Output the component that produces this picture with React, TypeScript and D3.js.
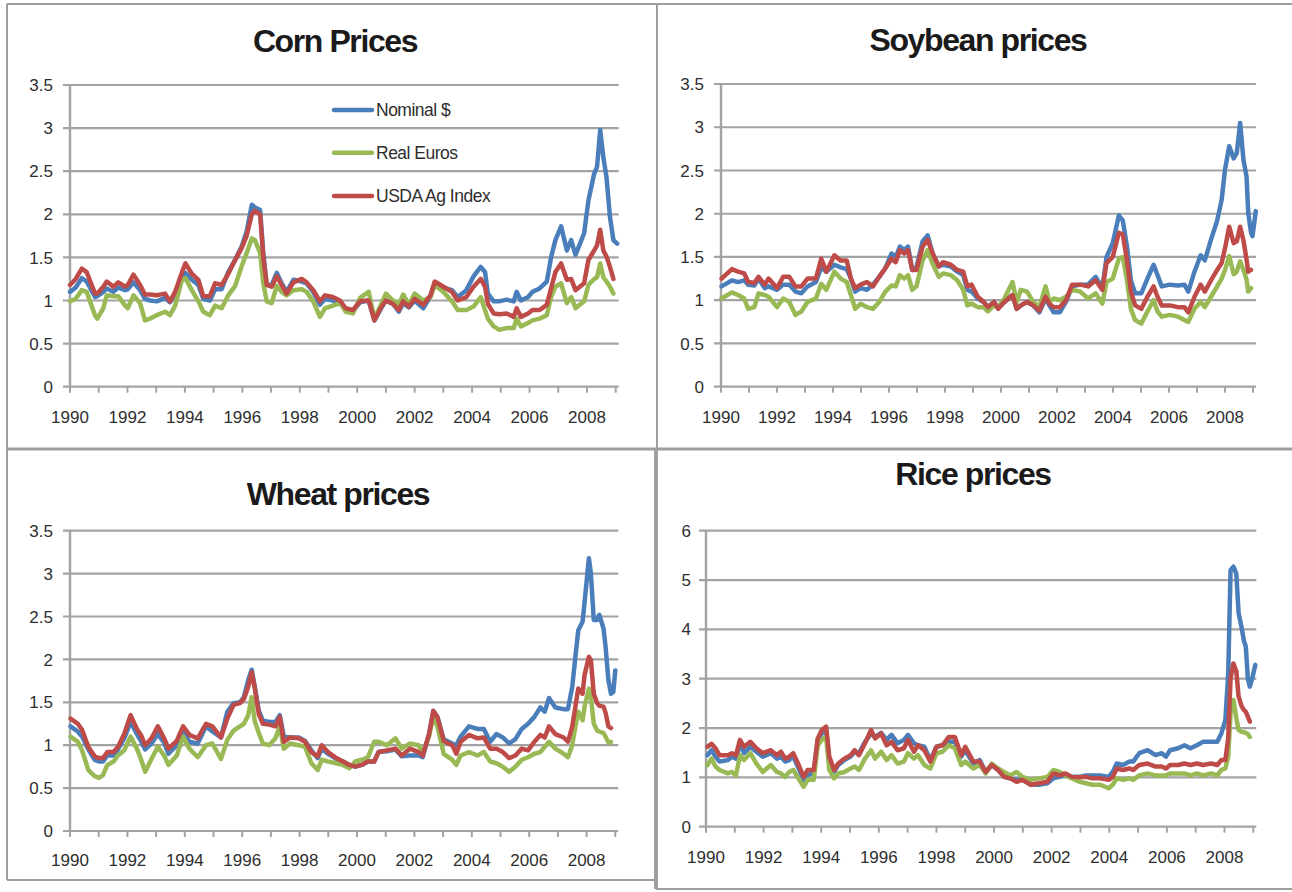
import React from "react";
import * as d3 from "d3";

// ---------------- DATA ----------------
const seriesNames = ["Nominal $", "Real Euros", "USDA Ag Index"];
const seriesColors = ["#4A7EBB", "#98B954", "#BE4B48"];
const xTickYears = d3.range(1990, 2010);
const xLabelYears = d3.range(1990, 2009, 2);

const cornYears = [1990.00,1990.20,1990.41,1990.58,1990.87,1990.95,1991.16,1991.28,1991.51,1991.68,1991.92,1992.01,1992.21,1992.44,1992.61,1992.79,1993.02,1993.31,1993.48,1993.66,1993.89,1994.02,1994.24,1994.47,1994.64,1994.87,1995.05,1995.28,1995.51,1995.75,1995.98,1996.15,1996.33,1996.44,1996.62,1996.73,1996.85,1997.02,1997.20,1997.37,1997.54,1997.78,1998.07,1998.24,1998.47,1998.70,1998.88,1999.15,1999.40,1999.60,1999.85,2000.10,2000.40,2000.60,2000.85,2001.00,2001.25,2001.45,2001.60,2001.80,2002.00,2002.30,2002.55,2002.70,2003.00,2003.30,2003.50,2003.80,2004.05,2004.30,2004.45,2004.55,2004.75,2004.95,2005.20,2005.45,2005.55,2005.70,2005.95,2006.10,2006.35,2006.60,2006.75,2006.90,2007.10,2007.30,2007.45,2007.60,2007.90,2008.05,2008.25,2008.35,2008.46,2008.57,2008.68,2008.80,2008.92,2009.05];
const cornNominal = [1.10,1.15,1.26,1.22,1.04,1.05,1.10,1.14,1.10,1.15,1.12,1.13,1.21,1.12,1.02,1.00,0.99,1.03,0.98,1.06,1.27,1.32,1.24,1.18,1.02,1.00,1.13,1.13,1.33,1.47,1.63,1.80,2.11,2.08,2.05,1.55,1.18,1.18,1.32,1.20,1.10,1.24,1.22,1.20,1.10,0.95,1.02,1.00,0.98,0.89,0.88,0.98,1.00,0.77,0.92,1.00,0.96,0.87,0.97,0.92,1.00,0.91,1.05,1.20,1.15,1.12,1.04,1.12,1.28,1.39,1.33,1.08,0.99,0.99,1.01,0.99,1.10,1.00,1.04,1.10,1.14,1.22,1.50,1.70,1.86,1.58,1.70,1.53,1.78,2.16,2.47,2.55,2.98,2.66,2.43,1.97,1.70,1.66];
const cornEuro = [0.99,1.02,1.12,1.10,0.83,0.79,0.91,1.06,1.05,1.05,0.94,0.91,1.06,0.97,0.77,0.79,0.83,0.87,0.83,0.94,1.23,1.26,1.12,0.99,0.87,0.83,0.94,0.91,1.06,1.17,1.40,1.55,1.72,1.70,1.55,1.20,0.99,0.97,1.17,1.10,1.06,1.12,1.13,1.10,0.99,0.81,0.91,0.94,0.97,0.87,0.85,1.03,1.10,0.79,0.97,1.08,1.00,0.95,1.07,0.95,1.08,1.00,1.04,1.18,1.10,0.99,0.89,0.89,0.93,1.04,0.89,0.79,0.70,0.66,0.68,0.68,0.79,0.70,0.74,0.77,0.79,0.83,1.04,1.16,1.20,0.97,1.04,0.91,0.99,1.18,1.25,1.27,1.43,1.27,1.22,1.16,1.08,null];
const cornUsda = [1.18,1.25,1.37,1.33,1.08,1.08,1.16,1.22,1.16,1.21,1.16,1.18,1.30,1.18,1.07,1.07,1.06,1.08,0.99,1.10,1.32,1.43,1.31,1.24,1.05,1.05,1.20,1.18,1.31,1.47,1.61,1.75,2.00,2.04,2.00,1.50,1.18,1.16,1.28,1.18,1.08,1.21,1.25,1.21,1.12,0.99,1.06,1.04,1.00,0.91,0.89,0.99,1.00,0.77,0.93,1.00,0.96,0.89,0.99,0.93,1.02,0.95,1.06,1.22,1.16,1.10,1.00,1.04,1.16,1.25,1.16,0.96,0.85,0.84,0.85,0.81,0.91,0.81,0.85,0.89,0.89,0.95,1.14,1.33,1.43,1.24,1.25,1.12,1.20,1.47,1.58,1.64,1.82,1.58,1.51,1.39,1.25,null];

const soyYears = [1990.02,1990.39,1990.61,1990.83,1990.97,1991.19,1991.34,1991.56,1991.70,1992.00,1992.22,1992.44,1992.66,1992.87,1993.09,1993.39,1993.58,1993.76,1994.05,1994.27,1994.49,1994.64,1994.79,1994.99,1995.21,1995.43,1995.65,1995.87,1996.09,1996.24,1996.39,1996.54,1996.68,1996.83,1996.98,1997.20,1997.38,1997.56,1997.78,1997.93,1998.21,1998.44,1998.65,1998.80,1998.95,1999.17,1999.38,1999.53,1999.75,1999.90,2000.12,2000.41,2000.56,2000.71,2000.93,2001.15,2001.37,2001.59,2001.73,2001.88,2002.10,2002.32,2002.54,2002.83,2003.11,2003.38,2003.62,2003.77,2003.99,2004.21,2004.35,2004.50,2004.64,2004.79,2005.01,2005.23,2005.45,2005.59,2005.74,2006.03,2006.32,2006.55,2006.69,2006.91,2007.13,2007.28,2007.50,2007.72,2007.88,2008.00,2008.15,2008.31,2008.42,2008.54,2008.66,2008.77,2008.83,2008.93,2008.98,2009.10];
const soyNominal = [1.16,1.23,1.21,1.23,1.18,1.17,1.25,1.14,1.16,1.12,1.18,1.18,1.10,1.08,1.16,1.21,1.38,1.33,1.41,1.38,1.36,1.25,1.10,1.14,1.12,1.18,1.27,1.37,1.54,1.50,1.62,1.58,1.62,1.35,1.38,1.68,1.75,1.54,1.39,1.41,1.39,1.33,1.29,1.12,1.10,1.02,0.98,0.92,0.98,0.91,0.98,1.06,0.90,0.94,0.98,0.94,0.86,1.02,0.94,0.86,0.86,0.98,1.16,1.18,1.18,1.27,1.14,1.50,1.66,1.98,1.92,1.62,1.23,1.08,1.08,1.25,1.41,1.29,1.16,1.18,1.17,1.18,1.10,1.33,1.52,1.46,1.70,1.92,2.16,2.51,2.78,2.64,2.70,3.05,2.62,2.43,2.01,1.78,1.74,2.03];
const soyEuro = [1.02,1.09,1.06,1.02,0.90,0.92,1.08,1.06,1.04,0.92,1.02,0.98,0.83,0.87,0.98,1.02,1.19,1.12,1.33,1.25,1.21,1.06,0.90,0.96,0.92,0.90,0.98,1.10,1.17,1.16,1.29,1.25,1.29,1.12,1.16,1.46,1.58,1.42,1.27,1.31,1.29,1.23,1.12,0.94,0.96,0.92,0.92,0.87,0.94,0.92,1.02,1.21,0.98,1.12,1.10,0.98,0.92,1.16,0.98,1.02,1.00,1.04,1.12,1.10,1.02,1.08,0.96,1.21,1.25,1.48,1.50,1.23,0.90,0.77,0.73,0.87,1.00,0.87,0.81,0.83,0.81,0.77,0.75,0.90,0.98,0.92,1.04,1.16,1.25,1.35,1.51,1.30,1.33,1.45,1.35,1.24,1.10,1.14,null,null];
const soyUsda = [1.25,1.36,1.33,1.31,1.21,1.20,1.27,1.18,1.25,1.14,1.27,1.27,1.16,1.16,1.25,1.25,1.48,1.33,1.52,1.46,1.46,1.25,1.14,1.18,1.21,1.16,1.27,1.37,1.48,1.44,1.58,1.54,1.58,1.35,1.35,1.62,1.70,1.54,1.39,1.44,1.41,1.35,1.33,1.16,1.18,1.04,0.98,0.92,0.98,0.90,0.98,1.06,0.90,0.94,0.98,0.94,0.88,1.04,0.96,0.92,0.92,1.00,1.18,1.18,1.16,1.23,1.12,1.43,1.50,1.78,1.76,1.46,1.10,0.94,0.90,1.04,1.16,1.04,0.94,0.94,0.92,0.92,0.86,1.04,1.18,1.10,1.23,1.35,1.43,1.60,1.85,1.66,1.68,1.85,1.69,1.47,1.33,1.35,null,null];

const wheatYears = [1990.02,1990.27,1990.42,1990.64,1990.86,1991.01,1991.15,1991.30,1991.52,1991.67,1991.89,1992.11,1992.33,1992.47,1992.62,1992.84,1993.06,1993.28,1993.43,1993.72,1993.94,1994.16,1994.45,1994.74,1994.96,1995.26,1995.48,1995.70,1995.92,1996.06,1996.21,1996.33,1996.43,1996.58,1996.72,1996.94,1997.16,1997.31,1997.45,1997.67,1997.97,1998.19,1998.41,1998.63,1998.77,1998.99,1999.28,1999.51,1999.73,1999.94,2000.16,2000.38,2000.60,2000.75,2001.04,2001.34,2001.56,2001.85,2002.14,2002.29,2002.51,2002.66,2002.80,2003.02,2003.32,2003.46,2003.61,2003.90,2004.20,2004.42,2004.64,2004.86,2005.08,2005.30,2005.52,2005.74,2005.96,2006.18,2006.39,2006.54,2006.69,2006.91,2007.20,2007.35,2007.50,2007.61,2007.71,2007.86,2007.93,2008.08,2008.15,2008.25,2008.37,2008.44,2008.59,2008.66,2008.76,2008.85,2008.93,2009.00];
const wheatNominal = [1.22,1.16,1.10,0.95,0.83,0.81,0.81,0.88,0.88,0.95,1.08,1.27,1.13,1.05,0.95,1.02,1.13,1.03,0.90,1.00,1.17,1.04,1.02,1.22,1.16,1.09,1.39,1.49,1.50,1.56,1.76,1.88,1.70,1.40,1.29,1.27,1.27,1.35,1.10,1.09,1.09,1.05,0.94,0.85,0.96,0.90,0.84,0.81,0.77,0.75,0.77,0.81,0.81,0.92,0.93,0.95,0.87,0.88,0.88,0.86,1.13,1.40,1.33,1.07,1.02,1.00,1.10,1.22,1.19,1.19,1.04,1.13,1.09,1.02,1.07,1.19,1.25,1.33,1.44,1.39,1.55,1.44,1.42,1.42,1.68,2.03,2.34,2.44,2.67,3.18,3.00,2.46,2.46,2.52,2.36,2.15,1.76,1.60,1.62,1.87];
const wheatEuro = [1.10,1.04,0.94,0.71,0.64,0.62,0.65,0.77,0.81,0.88,0.94,1.10,0.96,0.84,0.69,0.84,0.98,0.88,0.77,0.88,1.10,0.96,0.86,1.00,1.02,0.84,1.06,1.17,1.22,1.25,1.35,1.56,1.29,1.14,1.02,1.00,1.08,1.22,0.96,1.02,1.00,0.98,0.79,0.71,0.83,0.81,0.79,0.77,0.73,0.81,0.83,0.86,1.04,1.04,1.00,1.08,0.96,1.02,1.00,0.92,1.10,1.33,1.22,0.90,0.83,0.77,0.88,0.92,0.88,0.92,0.81,0.79,0.75,0.69,0.75,0.83,0.86,0.90,0.92,0.98,1.04,0.96,0.90,0.86,1.00,1.22,1.39,1.29,1.45,1.66,1.56,1.25,1.17,1.16,1.14,1.10,1.03,1.04,null,null];
const wheatUsda = [1.31,1.25,1.18,0.98,0.87,0.85,0.85,0.92,0.92,0.98,1.13,1.35,1.19,1.12,1.00,1.08,1.22,1.08,0.96,1.05,1.22,1.12,1.08,1.25,1.22,1.09,1.31,1.47,1.49,1.54,1.68,1.85,1.68,1.36,1.25,1.24,1.22,1.33,1.04,1.09,1.08,1.04,0.92,0.87,1.00,0.92,0.85,0.81,0.77,0.75,0.77,0.81,0.81,0.92,0.94,0.96,0.88,0.96,0.92,0.88,1.13,1.40,1.33,1.05,1.00,0.90,1.04,1.12,1.08,1.09,0.96,0.96,0.92,0.85,0.88,0.96,0.94,1.04,1.12,1.09,1.22,1.13,1.09,1.04,1.22,1.45,1.66,1.60,1.82,2.03,1.99,1.60,1.49,1.46,1.45,1.38,1.22,1.20,null,null];

const riceYears = [1990.05,1990.19,1990.33,1990.47,1990.76,1990.90,1991.04,1991.18,1991.32,1991.54,1991.75,1991.97,1992.25,1992.46,1992.60,1992.75,1992.89,1993.03,1993.24,1993.39,1993.53,1993.74,1993.88,1994.02,1994.17,1994.28,1994.45,1994.59,1994.80,1995.02,1995.16,1995.31,1995.52,1995.73,1995.87,1996.08,1996.27,1996.44,1996.65,1996.87,1997.01,1997.22,1997.36,1997.58,1997.79,1998.00,1998.21,1998.43,1998.64,1998.86,1999.00,1999.28,1999.50,1999.71,1999.92,2000.14,2000.35,2000.56,2000.78,2000.99,2001.28,2001.56,2001.85,2002.06,2002.27,2002.48,2002.70,2002.98,2003.19,2003.41,2003.69,2003.98,2004.12,2004.26,2004.48,2004.69,2004.83,2005.04,2005.33,2005.61,2005.82,2005.97,2006.11,2006.39,2006.61,2006.82,2007.04,2007.25,2007.54,2007.75,2007.89,2008.03,2008.13,2008.21,2008.31,2008.41,2008.49,2008.59,2008.67,2008.74,2008.81,2008.88,2008.96,2009.07];
const riceNominal = [1.45,1.55,1.42,1.32,1.35,1.42,1.38,1.69,1.49,1.62,1.52,1.42,1.49,1.38,1.42,1.32,1.35,1.42,1.15,0.95,1.05,1.08,1.76,1.89,1.96,1.32,1.12,1.25,1.35,1.42,1.52,1.49,1.72,1.89,1.82,1.90,1.76,1.86,1.69,1.76,1.86,1.69,1.65,1.62,1.35,1.62,1.65,1.72,1.72,1.42,1.55,1.28,1.35,1.11,1.25,1.15,1.01,0.98,0.95,0.95,0.85,0.85,0.88,0.98,1.01,1.05,1.01,1.01,1.04,1.04,1.04,1.01,1.11,1.28,1.25,1.32,1.32,1.49,1.55,1.45,1.49,1.42,1.55,1.59,1.65,1.59,1.65,1.72,1.72,1.72,1.89,2.16,3.11,5.20,5.27,5.13,4.33,4.05,3.78,3.65,3.00,2.84,3.00,3.28];
const riceEuro = [1.25,1.38,1.22,1.15,1.08,1.11,1.04,1.45,1.35,1.49,1.28,1.11,1.25,1.11,1.08,1.01,1.11,1.15,0.95,0.81,0.95,0.95,1.65,1.76,1.82,1.15,0.98,1.08,1.11,1.18,1.22,1.15,1.38,1.55,1.38,1.52,1.35,1.45,1.28,1.32,1.49,1.38,1.45,1.25,1.18,1.49,1.52,1.65,1.59,1.25,1.32,1.18,1.25,1.08,1.28,1.18,1.11,1.04,1.11,1.01,0.95,0.98,1.01,1.15,1.11,1.04,0.98,0.91,0.88,0.85,0.85,0.78,0.85,0.98,0.95,0.98,0.95,1.04,1.08,1.04,1.04,1.04,1.08,1.08,1.08,1.04,1.08,1.04,1.08,1.04,1.15,1.18,1.42,2.30,2.57,2.20,1.96,1.92,1.92,1.90,1.88,1.82,null,null];
const riceUsda = [1.62,1.68,1.59,1.45,1.45,1.49,1.45,1.76,1.62,1.72,1.59,1.49,1.55,1.45,1.52,1.38,1.42,1.49,1.22,1.01,1.15,1.15,1.79,1.96,2.03,1.42,1.15,1.28,1.38,1.45,1.55,1.45,1.69,1.96,1.79,1.89,1.65,1.72,1.55,1.59,1.76,1.52,1.65,1.55,1.32,1.62,1.65,1.82,1.82,1.45,1.62,1.32,1.32,1.11,1.25,1.15,1.01,0.98,0.91,0.95,0.85,0.88,0.91,1.08,1.04,1.08,1.01,1.00,1.01,0.98,0.98,0.95,1.01,1.18,1.15,1.18,1.15,1.25,1.28,1.22,1.22,1.18,1.25,1.25,1.28,1.25,1.28,1.25,1.28,1.25,1.35,1.35,1.80,3.00,3.31,3.15,2.64,2.45,2.37,2.33,2.23,2.13,null,null];

// ---------------- LAYOUT ----------------
type PanelCfg = {
  title: string;
  years: number[];
  series: (number | null)[][];
  x0: number; x1: number; yBase: number; yTopPx: number;
  yMax: number; yStep: number;
  labelGap: number; xLabelDy: number;
  titleX: number; titleY: number;
  legend?: boolean;
};

const panels: PanelCfg[] = [
  { title: "Corn Prices", years: cornYears, series: [cornNominal, cornEuro, cornUsda],
    x0: 70, x1: 615.7, yBase: 386.7, yTopPx: 85, yMax: 3.5, yStep: 0.5,
    labelGap: 17, xLabelDy: 30, titleX: 335, titleY: 51.7, legend: true },
  { title: "Soybean prices", years: soyYears, series: [soyNominal, soyEuro, soyUsda],
    x0: 721, x1: 1253, yBase: 386.7, yTopPx: 84, yMax: 3.5, yStep: 0.5,
    labelGap: 17, xLabelDy: 30, titleX: 978, titleY: 50.7 },
  { title: "Wheat prices", years: wheatYears, series: [wheatNominal, wheatEuro, wheatUsda],
    x0: 70, x1: 615.3, yBase: 831, yTopPx: 530.7, yMax: 3.5, yStep: 0.5,
    labelGap: 17, xLabelDy: 29, titleX: 338, titleY: 505 },
  { title: "Rice prices", years: riceYears, series: [riceNominal, riceEuro, riceUsda],
    x0: 706, x1: 1253.3, yBase: 826.7, yTopPx: 530.7, yMax: 6, yStep: 1,
    labelGap: 15, xLabelDy: 30, titleX: 973, titleY: 485 },
];

const GRID = "#A3A3A3";
const TEXT = "#2e2e2e";
const FONT = "'Liberation Sans', Arial, sans-serif";

function Panel({ cfg }: { cfg: PanelCfg }) {
  const x = d3.scaleLinear().domain([1990, 2009]).range([cfg.x0, cfg.x1]);
  const y = d3.scaleLinear().domain([0, cfg.yMax]).range([cfg.yBase, cfg.yTopPx]);
  const yTicks = d3.range(0, cfg.yMax + cfg.yStep / 2, cfg.yStep);
  const gridEnd = cfg.x1 + 3;
  const order = [0, 1, 2];
  return (
    <g>
      <text x={cfg.titleX} y={cfg.titleY} textAnchor="middle" fontFamily={FONT}
        fontWeight="bold" fontSize={32} letterSpacing={-1.4} fill="#1a1a1a">{cfg.title}</text>
      {yTicks.map((t) => (
        <g key={t}>
          <line x1={cfg.x0 - 7} x2={gridEnd} y1={y(t)} y2={y(t)} stroke={GRID} strokeWidth={2.2} />
          <text x={cfg.x0 - cfg.labelGap} y={y(t)} dy="0.36em" textAnchor="end"
            fontFamily={FONT} fontSize={17} fill={TEXT}>{String(Math.round(t * 10) / 10)}</text>
        </g>
      ))}
      <line x1={cfg.x0} x2={cfg.x0} y1={y(cfg.yMax)} y2={cfg.yBase} stroke={GRID} strokeWidth={2.4} />
      {xTickYears.map((yr) => (
        <line key={yr} x1={x(yr)} x2={x(yr)} y1={cfg.yBase} y2={cfg.yBase + 6} stroke={GRID} strokeWidth={2} />
      ))}
      {xLabelYears.map((yr) => (
        <text key={yr} x={x(yr)} y={cfg.yBase + cfg.xLabelDy} dy="0.36em" textAnchor="middle"
          fontFamily={FONT} fontSize={17} fill={TEXT}>{yr}</text>
      ))}
      {order.map((si) => {
        const vals = cfg.series[si];
        const line = d3.line<number | null>()
          .defined((v) => v != null)
          .x((_, i) => x(cfg.years[i]))
          .y((v) => y(v as number));
        return (
          <path key={si} d={line(vals) || ""} fill="none" stroke={seriesColors[si]}
            strokeWidth={4.5} strokeLinejoin="round" strokeLinecap="round" />
        );
      })}
      {cfg.legend && seriesNames.map((name, i) => {
        const ly = [110, 152.7, 196][i];
        return (
          <g key={name}>
            <line x1={334} x2={372} y1={ly} y2={ly} stroke={seriesColors[i]} strokeWidth={4.5} strokeLinecap="round" />
            <text x={376} y={ly} dy="0.36em" fontFamily={FONT} fontSize={17.5} letterSpacing={-0.5} fill={TEXT}>{name}</text>
          </g>
        );
      })}
    </g>
  );
}

export default function App() {
  const B = "#9E9E9E";
  return (
    <svg width={1292} height={892} style={{ position: "absolute", left: 0, top: 0, background: "#fff" }}>
      <rect x={0} y={0} width={1292} height={892} fill="#fff" />
      {/* panel borders */}
      <line x1={7} x2={1292} y1={4} y2={4} stroke={B} strokeWidth={2} />
      <line x1={7} x2={7} y1={4} y2={880} stroke={B} strokeWidth={2} />
      <line x1={657} x2={657} y1={4} y2={448} stroke={B} strokeWidth={2} />
      <line x1={7} x2={1292} y1={449} y2={449} stroke={B} strokeWidth={3} />
      <line x1={656} x2={656} y1={449} y2={889} stroke={B} strokeWidth={4} />
      <line x1={7} x2={655} y1={880} y2={880} stroke={B} strokeWidth={2} />
      <line x1={656} x2={1292} y1={889} y2={889} stroke={B} strokeWidth={2} />
      {panels.map((p) => <Panel key={p.title} cfg={p} />)}
    </svg>
  );
}
